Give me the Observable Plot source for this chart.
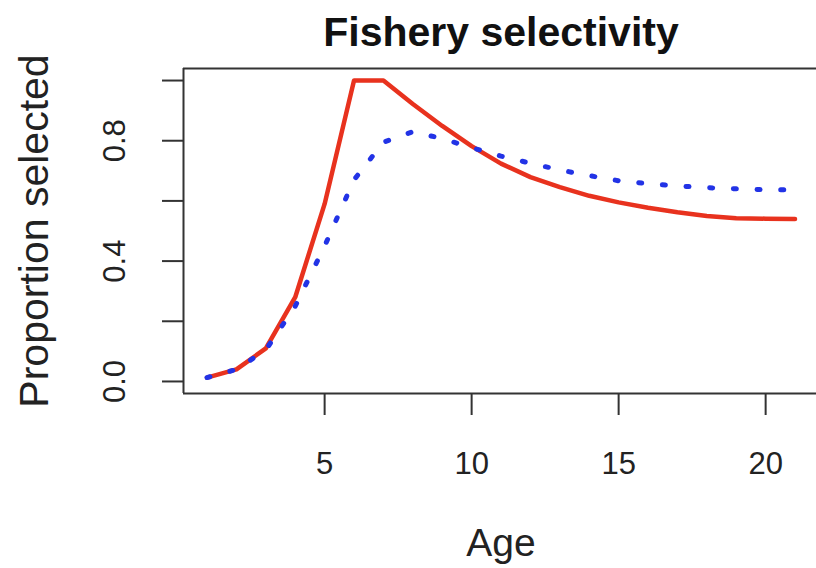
<!DOCTYPE html>
<html>
<head>
<meta charset="utf-8">
<script src="https://cdn.jsdelivr.net/npm/d3@7"></script>
<script src="https://cdn.jsdelivr.net/npm/@observablehq/plot@0.6"></script>
<style>
  html, body { margin: 0; padding: 0; background: #fff; }
  svg { display: block; }
</style>
</head>
<body>
<div id="chart"></div>
<script>
const title = "Fishery selectivity";
const xTitle = "Age";
const yTitle = "Proportion selected";
const ages = [1,2,3,4,5,6,7,8,9,10,11,12,13,14,15,16,17,18,19,20,21];
const redSel  = [0.013,0.04,0.11,0.28,0.59,1.0,1.0,0.922,0.849,0.782,0.724,0.679,0.646,0.617,0.595,0.577,0.562,0.550,0.542,0.541,0.540];
const blueSel = [0.013,0.04,0.105,0.25,0.45,0.67,0.795,0.83,0.807,0.777,0.749,0.725,0.703,0.684,0.667,0.657,0.650,0.644,0.640,0.637,0.637];
const xTicks = [5,10,15,20];
const yTicks = [0,0.2,0.4,0.6,0.8,1.0];
const yTickLabels = [0,0.4,0.8];

const rows = ages.map((a, i) => ({age: a, red: redSel[i], blue: blueSel[i]}));
const font = "Helvetica, Arial, 'Liberation Sans', sans-serif";
const axisColor = "#333";

const chart = Plot.plot({
  width: 816,
  height: 568,
  marginLeft: 183,
  marginRight: 0,
  marginTop: 68,
  marginBottom: 175,
  style: {fontFamily: font, background: "#fff", color: "#111"},
  x: {domain: [0.2, 21.73]},
  y: {domain: [-0.04, 1.04]},
  marks: [
    Plot.ruleY([-0.04, 1.04], {stroke: axisColor, strokeWidth: 2}),
    Plot.ruleX([0.2], {stroke: axisColor, strokeWidth: 2}),
    Plot.axisY({ticks: yTicks, tickSize: 21, tickFormat: () => "", label: null, stroke: axisColor, strokeWidth: 2}),
    Plot.axisX({ticks: xTicks, tickSize: 22, tickFormat: () => "", label: null, stroke: axisColor, strokeWidth: 2}),
    Plot.text(yTickLabels, {y: d => d, text: d => d.toFixed(1), frameAnchor: "left", dx: -59, rotate: -90,
      textAnchor: "middle", lineAnchor: "bottom", fontSize: 31, fill: "#222"}),
    Plot.text(xTicks, {x: d => d, text: d => String(d), frameAnchor: "bottom", dy: 80,
      textAnchor: "middle", lineAnchor: "bottom", fontSize: 31, fill: "#222"}),
    Plot.text([title], {text: d => d, frameAnchor: "top", dx: 1, dy: -23, textAnchor: "middle", lineAnchor: "bottom",
      fontSize: 41, fontWeight: "bold", fill: "#111"}),
    Plot.text([xTitle], {text: d => d, frameAnchor: "bottom", dx: 1, dy: 162, textAnchor: "middle", lineAnchor: "bottom",
      fontSize: 39, fill: "#222"}),
    Plot.text([yTitle], {text: d => d, frameAnchor: "left", dx: -136, rotate: -90, textAnchor: "middle", lineAnchor: "bottom",
      fontSize: 41, fill: "#222"}),
    Plot.line(rows, {x: "age", y: "red", stroke: "#e8321e", strokeWidth: 4.5, strokeLinejoin: "round", strokeLinecap: "round"}),
    Plot.line(rows, {x: "age", y: "blue", stroke: "#2233e6", strokeWidth: 5, strokeDasharray: "3,20.7", strokeLinecap: "round", strokeLinejoin: "round"})
  ]
});
document.getElementById("chart").appendChild(chart);
</script>
</body>
</html>
